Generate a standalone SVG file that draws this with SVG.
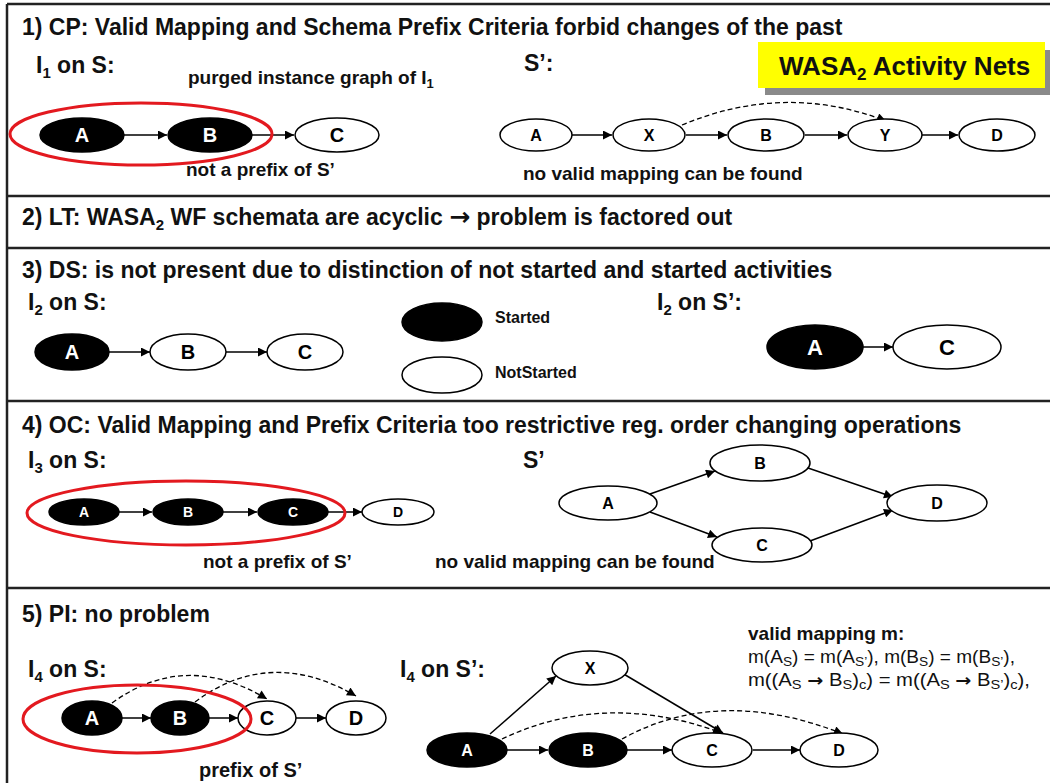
<svg xmlns="http://www.w3.org/2000/svg" width="1050" height="783" viewBox="0 0 1050 783">
<defs>
<style>
.t{font-family:"Liberation Sans",Arial,sans-serif;font-weight:bold;fill:#111}
.h{font-size:23px}
.s{font-size:19px}
.lg{font-size:16px}
.ar{font-family:"DejaVu Sans",sans-serif;font-weight:bold}
.m{font-family:"Liberation Sans",Arial,sans-serif;font-size:18px;fill:#111}
.nb{fill:#000;stroke:#000;stroke-width:1.5}
.nw{fill:#fff;stroke:#000;stroke-width:1.5}
.lw{font-family:"Liberation Sans",Arial,sans-serif;font-weight:bold;font-size:20px;fill:#fff;text-anchor:middle}
.lb{font-family:"Liberation Sans",Arial,sans-serif;font-weight:bold;font-size:20px;fill:#000;text-anchor:middle}
.sm{font-size:16px}
.xs{font-size:14px}
.lgl{font-size:22px}
.e{fill:none;stroke:#000;stroke-width:1.5;marker-end:url(#ah)}
.d{fill:none;stroke:#000;stroke-width:1.3;stroke-dasharray:5 3;marker-end:url(#ah)}
.red{fill:none;stroke:#e3191f;stroke-width:3}
.sep{stroke:#222;stroke-width:2.5}
</style>
<marker id="ah" viewBox="0 0 10 10" refX="10" refY="5" markerWidth="11" markerHeight="9" markerUnits="userSpaceOnUse" orient="auto">
<path d="M0,0 L10,5 L0,10 z" fill="#000"/>
</marker>
</defs>
<rect width="1050" height="783" fill="#fff"/>
<g id="frame">
<line class="sep" x1="7" y1="4" x2="1050" y2="4"/>
<line class="sep" x1="7" y1="4" x2="7" y2="783"/>
<line class="sep" x1="7" y1="196" x2="1050" y2="196"/>
<line class="sep" x1="7" y1="248" x2="1050" y2="248"/>
<line class="sep" x1="7" y1="401" x2="1050" y2="401"/>
<line class="sep" x1="7" y1="588" x2="1050" y2="588"/>
</g>
<g id="badge">
<rect x="765" y="50" width="290" height="45" fill="#8a8a8a"/>
<rect x="758" y="42" width="287" height="46" fill="#ffff00"/>
<text class="t" x="779" y="75" font-size="26">WASA<tspan dy="5" font-size="17">2</tspan><tspan dy="-5"> Activity Nets</tspan></text>
</g>
<g id="texts">
<text class="t h" x="22" y="35">1) CP: Valid Mapping and Schema Prefix Criteria forbid changes of the past</text>
<text class="t h" x="36" y="73">I<tspan dy="5" font-size="15">1</tspan><tspan dy="-5"> on S:</tspan></text>
<text class="t s" x="188" y="84">purged instance graph of I<tspan dy="4" font-size="13">1</tspan></text>
<text class="t h" x="524" y="71">S’:</text>
<text class="t s" x="186" y="176">not a prefix of S’</text>
<text class="t s" x="523" y="180">no valid mapping can be found</text>
<text class="t h" x="22" y="225">2) LT: WASA<tspan dy="5" font-size="15">2</tspan><tspan dy="-5"> WF schemata are acyclic </tspan><tspan class="ar" font-size="25">→</tspan> problem is factored out</text>
<text class="t h" x="22" y="278">3) DS: is not present due to distinction of not started and started activities</text>
<text class="t h" x="28" y="310">I<tspan dy="5" font-size="15">2</tspan><tspan dy="-5"> on S:</tspan></text>
<text class="t lg" x="495" y="323">Started</text>
<text class="t lg" x="495" y="378">NotStarted</text>
<text class="t h" x="657" y="310">I<tspan dy="5" font-size="15">2</tspan><tspan dy="-5"> on S’:</tspan></text>
<text class="t h" x="22" y="433">4) OC: Valid Mapping and Prefix Criteria too restrictive reg. order changing operations</text>
<text class="t h" x="28" y="468">I<tspan dy="5" font-size="15">3</tspan><tspan dy="-5"> on S:</tspan></text>
<text class="t h" x="523" y="468">S’</text>
<text class="t s" x="203" y="568">not a prefix of S’</text>
<text class="t s" x="435" y="568">no valid mapping can be found</text>
<text class="t h" x="22" y="622">5) PI: no problem</text>
<text class="t h" x="28" y="677">I<tspan dy="5" font-size="15">4</tspan><tspan dy="-5"> on S:</tspan></text>
<text class="t h" x="400" y="677">I<tspan dy="5" font-size="15">4</tspan><tspan dy="-5"> on S’:</tspan></text>
<text class="t" x="199" y="777" font-size="20">prefix of S’</text>
<text class="t s" x="748" y="640">valid mapping m:</text>
<text class="m" x="748" y="663" textLength="267" lengthAdjust="spacingAndGlyphs">m(A<tspan dy="3" font-size="13">S</tspan><tspan dy="-3">) = m(A</tspan><tspan dy="3" font-size="13">S’</tspan><tspan dy="-3">), m(B</tspan><tspan dy="3" font-size="13">S</tspan><tspan dy="-3">) = m(B</tspan><tspan dy="3" font-size="13">S’</tspan><tspan dy="-3">),</tspan></text>
<text class="m" x="748" y="686" textLength="282" lengthAdjust="spacingAndGlyphs">m((A<tspan dy="3" font-size="13">S</tspan><tspan dy="-3"> </tspan><tspan class="ar" font-size="17">→</tspan> B<tspan dy="3" font-size="13">S</tspan><tspan dy="-3">)</tspan><tspan dy="3" font-size="13">c</tspan><tspan dy="-3">) = m((A</tspan><tspan dy="3" font-size="13">S</tspan><tspan dy="-3"> </tspan><tspan class="ar" font-size="17">→</tspan> B<tspan dy="3" font-size="13">S’</tspan><tspan dy="-3">)</tspan><tspan dy="3" font-size="13">c</tspan><tspan dy="-3">),</tspan></text>
</g>
<g id="connectors">
<line class="e" x1="124" y1="135" x2="167" y2="135"/>
<line class="e" x1="252" y1="135" x2="294" y2="135"/>
<line class="e" x1="572" y1="135" x2="612" y2="135"/>
<line class="e" x1="686" y1="135" x2="727" y2="135"/>
<line class="e" x1="805" y1="135" x2="847" y2="135"/>
<line class="e" x1="922" y1="135" x2="958" y2="135"/>
<path class="d" d="M682,125 Q785,82 886,121"/>
<line class="e" x1="109" y1="352" x2="150" y2="352"/>
<line class="e" x1="226" y1="352" x2="267" y2="352"/>
<line class="e" x1="863" y1="347" x2="893" y2="347"/>
<line class="e" x1="119" y1="512" x2="152" y2="512"/>
<line class="e" x1="223" y1="512" x2="257" y2="512"/>
<line class="e" x1="328" y1="512" x2="362" y2="512"/>
<line class="e" x1="650" y1="494" x2="715" y2="471"/>
<line class="e" x1="650" y1="512" x2="717" y2="537"/>
<line class="e" x1="808" y1="468" x2="893" y2="497"/>
<line class="e" x1="810" y1="541" x2="893" y2="510"/>
<line class="e" x1="122" y1="718" x2="151" y2="718"/>
<line class="e" x1="209" y1="718" x2="238" y2="718"/>
<line class="e" x1="295" y1="718" x2="326" y2="718"/>
<path class="d" d="M112,703 Q185,650 267,699"/>
<path class="d" d="M195,702 Q270,646 356,696"/>
<line class="e" x1="490" y1="734" x2="556" y2="676"/>
<line class="e" x1="622" y1="673" x2="723" y2="733"/>
<line class="e" x1="507" y1="750" x2="548" y2="750"/>
<line class="e" x1="627" y1="750" x2="672" y2="750"/>
<line class="e" x1="753" y1="750" x2="800" y2="750"/>
<path class="d" d="M502,739 Q605,690 722,733"/>
<path class="d" d="M622,739 Q720,685 843,734"/>
</g>
<g id="s1-A"><ellipse class="nb" cx="82" cy="135" rx="42" ry="17"/><text class="lw" x="82" y="142">A</text></g>
<g id="s1-B"><ellipse class="nb" cx="210" cy="135" rx="42" ry="17"/><text class="lw" x="210" y="142">B</text></g>
<g id="s1-C"><ellipse class="nw" cx="337" cy="135" rx="42" ry="17"/><text class="lb" x="337" y="142">C</text></g>
<g id="s1-red"><ellipse class="red" cx="141" cy="134" rx="131" ry="31"/></g>
<g id="s1p-A"><ellipse class="nw" cx="536" cy="135" rx="36" ry="16"/><text class="lb sm" x="536" y="141">A</text></g>
<g id="s1p-X"><ellipse class="nw" cx="649" cy="135" rx="36" ry="16"/><text class="lb sm" x="649" y="141">X</text></g>
<g id="s1p-B"><ellipse class="nw" cx="766" cy="135" rx="38" ry="16"/><text class="lb sm" x="766" y="141">B</text></g>
<g id="s1p-Y"><ellipse class="nw" cx="885" cy="135" rx="37" ry="16"/><text class="lb sm" x="885" y="141">Y</text></g>
<g id="s1p-D"><ellipse class="nw" cx="997" cy="135" rx="38" ry="16"/><text class="lb sm" x="997" y="141">D</text></g>
<g id="s3-A"><ellipse class="nb" cx="72" cy="352" rx="37" ry="18"/><text class="lw" x="72" y="359">A</text></g>
<g id="s3-B"><ellipse class="nw" cx="188" cy="352" rx="38" ry="18"/><text class="lb" x="188" y="359">B</text></g>
<g id="s3-C"><ellipse class="nw" cx="305" cy="352" rx="38" ry="18"/><text class="lb" x="305" y="359">C</text></g>
<g id="legend-started"><ellipse class="nb" cx="442" cy="322" rx="40" ry="19"/></g>
<g id="legend-notstarted"><ellipse class="nw" cx="442" cy="375" rx="40" ry="18"/></g>
<g id="s3p-A"><ellipse class="nb" cx="815" cy="347" rx="48" ry="22"/><text class="lw lgl" x="815" y="355">A</text></g>
<g id="s3p-C"><ellipse class="nw" cx="947" cy="347" rx="54" ry="22"/><text class="lb lgl" x="947" y="355">C</text></g>
<g id="s4-A"><ellipse class="nb" cx="84" cy="512" rx="35" ry="13"/><text class="lw xs" x="84" y="517">A</text></g>
<g id="s4-B"><ellipse class="nb" cx="188" cy="512" rx="35" ry="13"/><text class="lw xs" x="188" y="517">B</text></g>
<g id="s4-C"><ellipse class="nb" cx="293" cy="512" rx="35" ry="13"/><text class="lw xs" x="293" y="517">C</text></g>
<g id="s4-D"><ellipse class="nw" cx="398" cy="512" rx="36" ry="13"/><text class="lb xs" x="398" y="517">D</text></g>
<g id="s4-red"><ellipse class="red" cx="186" cy="513" rx="159" ry="32"/></g>
<g id="s4p-A"><ellipse class="nw" cx="608" cy="503" rx="49" ry="17"/><text class="lb sm" x="608" y="509">A</text></g>
<g id="s4p-B"><ellipse class="nw" cx="760" cy="463" rx="50" ry="18"/><text class="lb sm" x="760" y="469">B</text></g>
<g id="s4p-C"><ellipse class="nw" cx="762" cy="545" rx="50" ry="17"/><text class="lb sm" x="762" y="551">C</text></g>
<g id="s4p-D"><ellipse class="nw" cx="937" cy="503" rx="50" ry="18"/><text class="lb sm" x="937" y="509">D</text></g>
<g id="s5-A"><ellipse class="nb" cx="92" cy="718" rx="30" ry="17"/><text class="lw" x="92" y="725">A</text></g>
<g id="s5-B"><ellipse class="nb" cx="180" cy="718" rx="29" ry="17"/><text class="lw" x="180" y="725">B</text></g>
<g id="s5-C"><ellipse class="nw" cx="267" cy="718" rx="29" ry="17"/><text class="lb" x="267" y="725">C</text></g>
<g id="s5-D"><ellipse class="nw" cx="356" cy="718" rx="30" ry="17"/><text class="lb" x="356" y="725">D</text></g>
<g id="s5-red"><ellipse class="red" cx="137" cy="719" rx="114" ry="34"/></g>
<g id="s5p-X"><ellipse class="nw" cx="590" cy="668" rx="38" ry="17"/><text class="lb sm" x="590" y="674">X</text></g>
<g id="s5p-A"><ellipse class="nb" cx="467" cy="750" rx="40" ry="17"/><text class="lw sm" x="467" y="756">A</text></g>
<g id="s5p-B"><ellipse class="nb" cx="588" cy="750" rx="39" ry="17"/><text class="lw sm" x="588" y="756">B</text></g>
<g id="s5p-C"><ellipse class="nw" cx="712" cy="750" rx="40" ry="17"/><text class="lb sm" x="712" y="756">C</text></g>
<g id="s5p-D"><ellipse class="nw" cx="839" cy="750" rx="39" ry="17"/><text class="lb sm" x="839" y="756">D</text></g>
</svg>
